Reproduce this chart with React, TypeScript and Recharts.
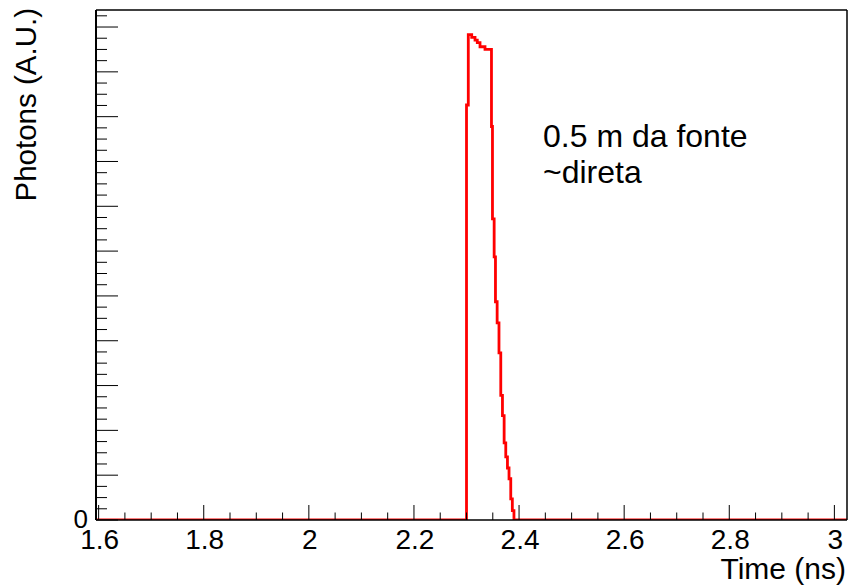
import { LineChart, Line, XAxis, YAxis } from 'recharts';

// histogram bin edges (ns) and contents (A.U.)
const timeNs = [
  1.595, 2.3, 2.3034, 2.3099, 2.3162, 2.3205, 2.3257, 2.3352, 2.3475, 2.3494,
  2.3526, 2.3551, 2.3583, 2.3618, 2.3652, 2.3684, 2.3716, 2.3747, 2.3779,
  2.3809, 2.3842, 2.3872, 2.3903, 3.024,
];
const photons = [
  0, 9260, 10830, 10770, 10710, 10650, 10560, 10500, 8780, 6720,
  5870, 4870, 4400, 3730, 2780, 2330, 1720, 1410, 1160,
  920, 470, 210, 0, 0,
];

const xMajorTicks = [1.6, 1.8, 2, 2.2, 2.4, 2.6, 2.8, 3];
const xTickLabels = ['1.6', '1.8', '2', '2.2', '2.4', '2.6', '2.8', '3'];
const xTicks = [
  1.6, 1.65, 1.7, 1.75, 1.8, 1.85, 1.9, 1.95, 2, 2.05, 2.1, 2.15, 2.2, 2.25,
  2.3, 2.35, 2.4, 2.45, 2.5, 2.55, 2.6, 2.65, 2.7, 2.75, 2.8, 2.85, 2.9, 2.95, 3,
];
const yTicks = [
  0, 250, 500, 750, 1000, 1250, 1500, 1750, 2000, 2250, 2500, 2750, 3000,
  3250, 3500, 3750, 4000, 4250, 4500, 4750, 5000, 5250, 5500, 5750, 6000,
  6250, 6500, 6750, 7000, 7250, 7500, 7750, 8000, 8250, 8500, 8750, 9000,
  9250, 9500, 9750, 10000, 10250, 10500, 10750, 11000, 11250,
];

const data = timeNs.map((t, i) => ({ t, photons: photons[i] }));

const FONT = '"Liberation Sans", Arial, sans-serif';

function XTick({ x, y, payload }: any) {
  const idx = xMajorTicks.findIndex((m) => Math.abs(m - payload.value) < 1e-6);
  const major = idx >= 0;
  return (
    <g>
      <line x1={x} x2={x} y1={y} y2={y - (major ? 15 : 7.5)} stroke="#000" strokeWidth={1} />
      {major && (
        <text x={x + 1} y={y + 29} textAnchor="middle" fontSize={28} fontFamily={FONT} fill="#000">
          {xTickLabels[idx]}
        </text>
      )}
    </g>
  );
}

function YTick({ x, y, payload }: any) {
  const major = payload.value % 1000 === 0;
  return (
    <g>
      <line x1={x} x2={x + (major ? 22 : 11)} y1={y} y2={y} stroke="#000" strokeWidth={1} />
      {payload.value === 0 && (
        <text x={x - 8} y={y + 8} textAnchor="end" fontSize={26} fontFamily={FONT} fill="#000">
          0
        </text>
      )}
    </g>
  );
}

export default function App() {
  return (
    <div style={{ position: 'absolute', left: 0, top: 0, width: 850, height: 585, background: '#fff' }}>
      <LineChart width={850} height={585} data={data} margin={{ top: 9, right: 2, bottom: 64, left: 95 }}>
        <XAxis
          type="number"
          dataKey="t"
          domain={[1.595, 3.024]}
          ticks={xTicks}
          interval={0}
          tick={<XTick />}
          tickSize={0}
          tickMargin={0}
          tickLine={false}
          height={1}
          allowDataOverflow
          axisLine={{ stroke: '#000', strokeWidth: 1.5 }}
        />
        <XAxis
          xAxisId="top"
          orientation="top"
          type="number"
          domain={[1.595, 3.024]}
          tick={false}
          tickLine={false}
          height={1}
          axisLine={{ stroke: '#000', strokeWidth: 1.5 }}
        />
        <YAxis
          type="number"
          domain={[0, 11380]}
          ticks={yTicks}
          interval={0}
          tick={<YTick />}
          tickSize={0}
          tickMargin={0}
          tickLine={false}
          width={1}
          allowDataOverflow
          axisLine={{ stroke: '#000', strokeWidth: 2 }}
        />
        <YAxis
          yAxisId="right"
          orientation="right"
          type="number"
          domain={[0, 11380]}
          tick={false}
          tickLine={false}
          width={1}
          axisLine={{ stroke: '#000', strokeWidth: 1.5 }}
        />
        <Line
          type="stepAfter"
          dataKey="photons"
          stroke="#ff0000"
          strokeWidth={2.8}
          dot={false}
          isAnimationActive={false}
        />
      </LineChart>
      <svg
        width={850}
        height={585}
        style={{ position: 'absolute', left: 0, top: 0, pointerEvents: 'none' }}
        fontFamily={FONT}
      >
        <text transform="translate(36,8) rotate(-90)" textAnchor="end" fontSize={29.5} fill="#000">
          Photons (A.U.)
        </text>
        <text x={846} y={579} textAnchor="end" fontSize={30} fill="#000">
          Time (ns)
        </text>
        <text x={543} y={147} fontSize={32} fill="#000">
          0.5 m da fonte
        </text>
        <text x={543} y={183} fontSize={32} fill="#000">
          ~direta
        </text>
      </svg>
    </div>
  );
}
